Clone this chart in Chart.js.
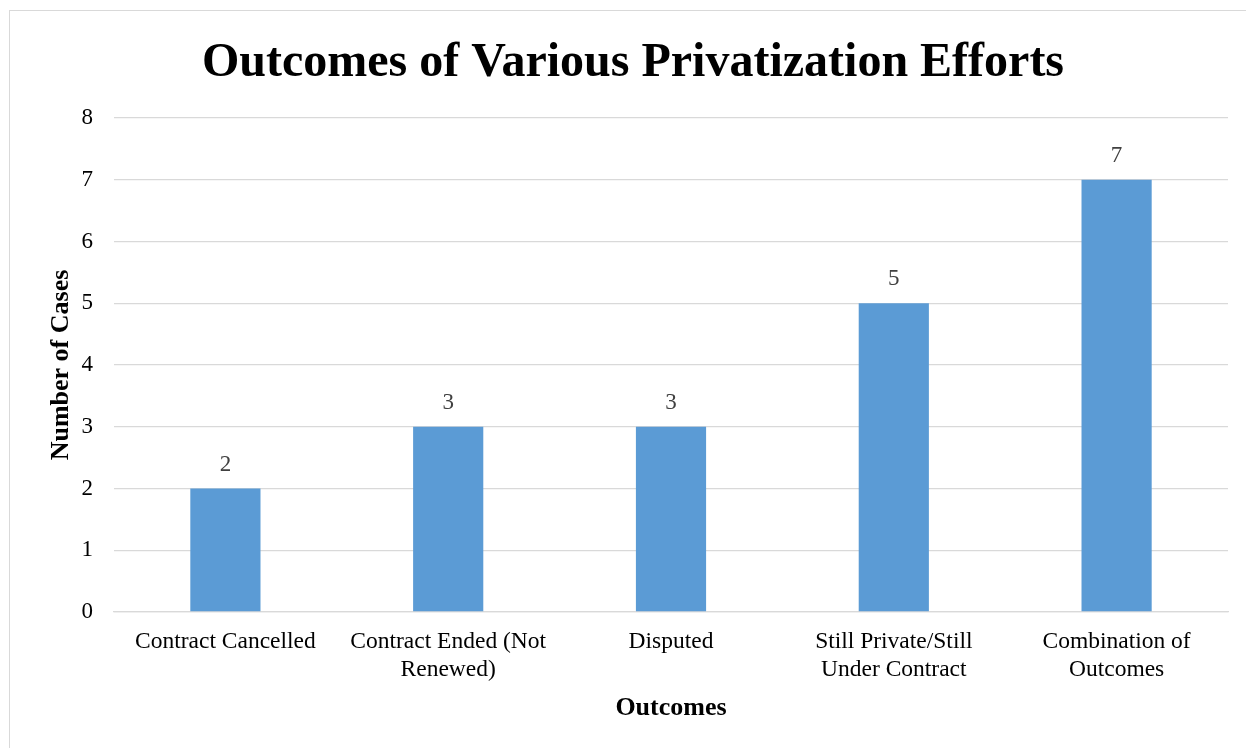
<!DOCTYPE html>
<html>
<head>
<meta charset="utf-8">
<script src="https://cdn.jsdelivr.net/npm/chart.js@4.4.1/dist/chart.umd.min.js"></script>
<style>
  html, body { margin: 0; padding: 0; background: #fff; overflow: hidden; }
  #wrap { position: relative; width: 1246px; height: 748px; }
  #frame { position: absolute; left: 9px; top: 10px; width: 1300px; height: 800px; border: 1.5px solid #d9d9d9; box-sizing: border-box; }
  canvas { position: absolute; left: 0; top: 0; }
</style>
</head>
<body>
<div id="wrap">
  <div id="frame"></div>
  <canvas id="chart" width="1246" height="748"></canvas>
</div>
<script>
const categories = [
  'Contract Cancelled',
  ['Contract Ended (Not', 'Renewed)'],
  'Disputed',
  ['Still Private/Still', 'Under Contract'],
  ['Combination of', 'Outcomes']
];
const cases = [2, 3, 3, 5, 7];
const yTicks = [0, 1, 2, 3, 4, 5, 6, 7, 8];

const serif = "'Liberation Serif', 'Times New Roman', serif";

// values above each bar
const barLabels = {
  id: 'barLabels',
  afterDatasetsDraw(chart) {
    const ctx = chart.ctx;
    const meta = chart.getDatasetMeta(0);
    ctx.save();
    ctx.font = "23px " + serif;
    ctx.fillStyle = '#404040';
    ctx.textAlign = 'center';
    ctx.textBaseline = 'middle';
    meta.data.forEach((bar, i) => {
      ctx.fillText(String(cases[i]), bar.x, bar.y - 24);
    });
    ctx.restore();
  }
};

new Chart(document.getElementById('chart'), {
  type: 'bar',
  data: {
    labels: categories,
    datasets: [{
      data: cases,
      backgroundColor: '#5B9BD5',
      barPercentage: 0.315,
      categoryPercentage: 1
    }]
  },
  options: {
    responsive: false,
    animation: false,
    devicePixelRatio: 1,
    layout: { padding: { left: 38, right: 18, top: 10, bottom: 0 } },
    plugins: {
      legend: { display: false },
      tooltip: { enabled: false },
      title: {
        display: true,
        text: 'Outcomes of Various Privatization Efforts',
        color: '#000',
        font: { family: serif, size: 48, weight: 'bold', lineHeight: 1.2 },
        padding: { top: 25, bottom: 25.4 }
      }
    },
    scales: {
      x: {
        afterFit(s) { s.height = 136; },
        grid: { display: false, drawTicks: false },
        border: { display: true, color: '#d9d9d9', width: 1.3 },
        ticks: {
          color: '#000',
          padding: 16,
          maxRotation: 0,
          autoSkip: false,
          font: { family: serif, size: 23.5, lineHeight: 1.2 }
        },
        title: {
          display: true,
          text: 'Outcomes',
          color: '#000',
          font: { family: serif, size: 26, weight: 'bold', lineHeight: 1.2 },
          padding: { top: 0, bottom: 24 }
        }
      },
      y: {
        min: 0,
        max: 8,
        afterFit(s) { s.width = 76; },
        afterBuildTicks(s) { s.ticks = yTicks.map(v => ({ value: v })); },
        grid: { color: '#d9d9d9', lineWidth: 1.3, drawTicks: false },
        border: { display: false },
        ticks: {
          color: '#000',
          padding: 21,
          font: { family: serif, size: 23 }
        },
        title: {
          display: true,
          text: 'Number of Cases',
          color: '#000',
          font: { family: serif, size: 26, weight: 'bold', lineHeight: 1.2 },
          padding: { top: 8, bottom: 0 }
        }
      }
    }
  },
  plugins: [barLabels]
});
</script>
</body>
</html>
